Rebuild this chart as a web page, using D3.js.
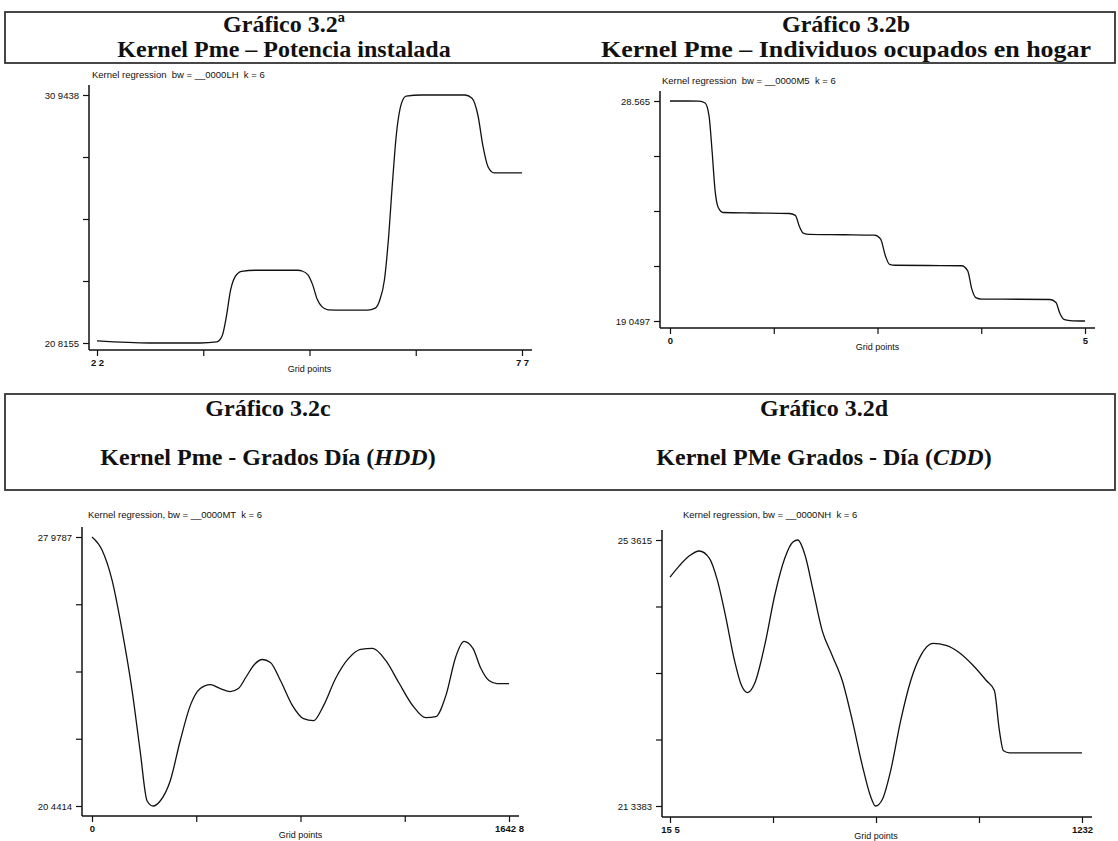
<!DOCTYPE html>
<html><head><meta charset="utf-8">
<script src="https://cdn.jsdelivr.net/npm/d3@7"></script>
<style>body{margin:0;background:#fff}svg{display:block}</style>
</head><body><svg id="c" width="1118" height="841"></svg>
<script>
// ---- Titles ----
const bannerTopTitles = [["Gráfico 3.2ª", "Kernel Pme – Potencia instalada"], ["Gráfico 3.2b", "Kernel Pme – Individuos ocupados en hogar"]];
const bannerBotTitles = [["Gráfico 3.2c", "Kernel Pme - Grados Día (", "HDD", ")"], ["Gráfico 3.2d", "Kernel PMe Grados - Día (", "CDD", ")"]];
const subtitles = ["Kernel regression  bw = __0000LH  k = 6", "Kernel regression  bw = __0000M5  k = 6", "Kernel regression, bw = __0000MT  k = 6", "Kernel regression, bw = __0000NH  k = 6"];
const xAxisTitle = "Grid points";

// ---- Panel A: Potencia instalada ----
const gridA = [2.2, 2.886, 3.533, 3.75, 3.82, 3.87, 3.93, 3.99, 4.07, 4.25, 4.80, 4.85, 4.93, 4.99, 5.05, 5.11, 5.19, 5.40, 5.70, 5.80, 5.86, 5.92, 5.97, 6.02, 6.07, 6.14, 6.20, 6.40, 6.96, 7.05, 7.13, 7.195, 7.26, 7.34, 7.55, 7.7];
const pmeA = [20.899, 20.8155, 20.8155, 20.86, 21.108, 21.820, 22.992, 23.536, 23.745, 23.787, 23.787, 23.76, 23.60, 23.2, 22.6, 22.3, 22.17, 22.155, 22.155, 22.238, 22.573, 23.4, 25.0, 27.2, 29.2, 30.6, 30.902, 30.9438, 30.9438, 30.818, 30.107, 28.851, 28.014, 27.763, 27.763, 27.763];
const yLabelsA = ["20 8155", "30 9438"], xLabelsA = ["2 2", "7 7"];
const yDomA = [20.8155, 30.9438], xDomA = [2.2, 7.7];

// ---- Panel B: Individuos ocupados en hogar ----
const gridB = [0, 0.2, 0.350, 0.423, 0.471, 0.507, 0.543, 0.580, 0.640, 1.0, 1.437, 1.510, 1.558, 1.606, 1.679, 2.1, 2.464, 2.536, 2.597, 2.645, 2.717, 3.1, 3.514, 3.587, 3.635, 3.684, 3.756, 4.2, 4.577, 4.650, 4.698, 4.746, 4.819, 5];
const pmeB = [28.565, 28.565, 28.56, 28.48, 27.9, 26.4, 24.7, 23.97, 23.743, 23.72, 23.70, 23.62, 23.15, 22.85, 22.795, 22.78, 22.76, 22.6, 21.85, 21.5, 21.461, 21.45, 21.44, 21.22, 20.45, 20.06, 19.997, 19.99, 19.98, 19.85, 19.37, 19.12, 19.07, 19.0497];
const yLabelsB = ["19 0497", "28.565"], xLabelsB = ["0", "5"];
const yDomB = [19.0497, 28.565], xDomB = [0, 5];

// ---- Panel C: Grados Día (HDD) ----
const gridC = [0, 39.5, 79.0, 118.5, 158.0, 189.6, 217.2, 240.9, 268.5, 308.0, 347.5, 387.0, 426.5, 466.0, 505.5, 545.0, 576.6, 608.1, 639.7, 671.3, 702.9, 742.4, 789.8, 833.3, 872.7, 912.2, 959.6, 1010.9, 1058.3, 1105.7, 1157.1, 1208.4, 1263.7, 1315.0, 1354.5, 1394.0, 1433.5, 1465.1, 1500.6, 1532.2, 1563.8, 1595.4, 1642.8];
const pmeC = [27.9787, 27.613, 26.769, 25.363, 23.676, 21.988, 20.582, 20.4414, 20.582, 21.144, 22.269, 23.254, 23.732, 23.844, 23.732, 23.648, 23.732, 24.070, 24.407, 24.547, 24.463, 23.957, 23.254, 22.888, 22.832, 23.254, 24.013, 24.576, 24.829, 24.857, 24.519, 23.901, 23.254, 22.916, 22.944, 23.535, 24.632, 25.054, 24.857, 24.294, 23.957, 23.873, 23.873];
const yLabelsC = ["20 4414", "27 9787"], xLabelsC = ["0", "1642 8"];
const yDomC = [20.4414, 27.9787], xDomC = [0, 1642.8];

// ---- Panel D: Grados Día (CDD) ----
const gridD = [15.5, 42.3, 72.0, 101.8, 131.5, 155.3, 179.1, 205.9, 226.7, 244.5, 265.3, 295.1, 324.8, 354.6, 378.4, 393.2, 414.1, 437.9, 464.6, 494.4, 524.1, 553.9, 583.6, 607.4, 622.3, 643.1, 666.9, 696.6, 726.4, 756.1, 791.8, 830.5, 869.1, 910.8, 949.4, 973.2, 988.1, 1000.0, 1017.8, 1113.0, 1232];
const pmeD = [24.800, 24.967, 25.119, 25.195, 25.088, 24.754, 24.223, 23.540, 23.160, 23.054, 23.190, 23.767, 24.526, 25.088, 25.331, 25.3615, 25.134, 24.602, 23.995, 23.616, 23.236, 22.629, 21.946, 21.490, 21.3383, 21.445, 21.870, 22.629, 23.236, 23.616, 23.798, 23.768, 23.661, 23.464, 23.236, 23.084, 22.477, 22.173, 22.143, 22.143, 22.143];
const yLabelsD = ["21 3383", "25 3615"], xLabelsD = ["15 5", "1232"];
const yDomD = [21.3383, 25.3615], xDomD = [15.5, 1232];

const svg = d3.select("#c");
const SERIF = "'Liberation Serif','Times New Roman',serif";
const SANS = "'Liberation Sans',Arial,sans-serif";

// ---- Banners ----
function banner(y0, y1, titles, l1, l2, centers, fs, widths) {
  svg.append("rect").attr("x", 5).attr("y", y0).attr("width", 1110).attr("height", y1 - y0)
    .attr("fill", "none").attr("stroke", "#333").attr("stroke-width", 1.8);
  titles.forEach((t, i) => {
    svg.append("text").attr("x", centers[i]).attr("y", l1).attr("text-anchor", "middle")
      .attr("font-family", SERIF).attr("font-weight", "bold").attr("font-size", fs).attr("fill", "#111").text(t[0]);
    const tx = svg.append("text").attr("x", centers[i]).attr("y", l2).attr("text-anchor", "middle")
      .attr("font-family", SERIF).attr("font-weight", "bold").attr("font-size", fs).attr("fill", "#111");
    if (widths && widths[i]) tx.attr("textLength", widths[i]).attr("lengthAdjust", "spacingAndGlyphs");
    tx.append("tspan").text(t[1]);
    if (t.length > 2) {
      tx.append("tspan").attr("font-style", "italic").text(t[2]);
      tx.append("tspan").text(t[3]);
    }
  });
}
banner(12, 63, bannerTopTitles, 32, 57, [284, 846], 24, [null, 490]);
banner(394, 490, bannerBotTitles, 416, 465, [268, 824], 24, null);

// ---- Panels ----
const panels = [
  {grid: gridA, pme: pmeA, yl: yLabelsA, xl: xLabelsA, yd: yDomA, xd: xDomA, sub: subtitles[0], ax: 89, xr: [97, 522], yr: [343, 95], axY: 350, subX: 92, subY: 78},
  {grid: gridB, pme: pmeB, yl: yLabelsB, xl: xLabelsB, yd: yDomB, xd: xDomB, sub: subtitles[1], ax: 660, xr: [670, 1085], yr: [321, 101], axY: 328, subX: 662, subY: 84},
  {grid: gridC, pme: pmeC, yl: yLabelsC, xl: xLabelsC, yd: yDomC, xd: xDomC, sub: subtitles[2], ax: 82, xr: [92, 509], yr: [806, 537], axY: 816, subX: 88, subY: 518},
  {grid: gridD, pme: pmeD, yl: yLabelsD, xl: xLabelsD, yd: yDomD, xd: xDomD, sub: subtitles[3], ax: 662, xr: [670, 1082], yr: [806, 540], axY: 817, subX: 683, subY: 518}
];

panels.forEach(p => {
  const g = svg.append("g");
  const x = d3.scaleLinear().domain(p.xd).range(p.xr);
  const y = d3.scaleLinear().domain(p.yd).range(p.yr);
  const xt = d3.range(5).map(i => p.xd[0] + i * (p.xd[1] - p.xd[0]) / 4);
  const yt = d3.range(5).map(i => p.yd[0] + i * (p.yd[1] - p.yd[0]) / 4);

  // subtitle
  g.append("text").attr("x", p.subX).attr("y", p.subY).attr("font-family", SANS)
    .style("white-space", "pre").attr("font-size", 9.5).attr("fill", "#111").text(p.sub);

  // y axis
  const ya = d3.axisLeft(y).tickValues(yt).tickSize(6).tickPadding(4)
    .tickFormat((d, i) => i === 0 ? p.yl[0] : (i === 4 ? p.yl[1] : ""));
  const yg = g.append("g").attr("transform", `translate(${p.ax},0)`).call(ya);
  yg.select(".domain").remove();
  yg.selectAll("line").attr("stroke", "#111").attr("stroke-width", 1.2);
  yg.selectAll("text").attr("font-family", SANS).attr("font-size", 9.5).attr("fill", "#111");
  g.append("line").attr("x1", p.ax).attr("x2", p.ax).attr("y1", p.yr[1] - 10).attr("y2", p.axY)
    .attr("stroke", "#111").attr("stroke-width", 1.5);

  // x axis
  const xa = d3.axisBottom(x).tickValues(xt).tickSize(6).tickPadding(3)
    .tickFormat((d, i) => i === 0 ? p.xl[0] : (i === 4 ? p.xl[1] : ""));
  const xg = g.append("g").attr("transform", `translate(0,${p.axY})`).call(xa);
  xg.select(".domain").remove();
  xg.selectAll("line").attr("stroke", "#111").attr("stroke-width", 1.2);
  xg.selectAll("text").attr("font-family", SANS).attr("font-size", 9.5).attr("font-weight", "bold").attr("fill", "#111");
  g.append("line").attr("x1", p.ax).attr("x2", p.xr[1] + 10).attr("y1", p.axY).attr("y2", p.axY)
    .attr("stroke", "#111").attr("stroke-width", 1.5);

  g.append("text").attr("x", (p.xr[0] + p.xr[1]) / 2).attr("y", p.axY + 22).attr("text-anchor", "middle")
    .attr("font-family", SANS).attr("font-size", 9).attr("fill", "#111").text(xAxisTitle);

  // curve
  const data = p.grid.map((v, i) => [v, p.pme[i]]);
  g.append("path").datum(data)
    .attr("d", d3.line().x(d => x(d[0])).y(d => y(d[1])).curve(d3.curveMonotoneX))
    .attr("fill", "none").attr("stroke", "#111").attr("stroke-width", 1.3);
});
</script>
</body></html>
